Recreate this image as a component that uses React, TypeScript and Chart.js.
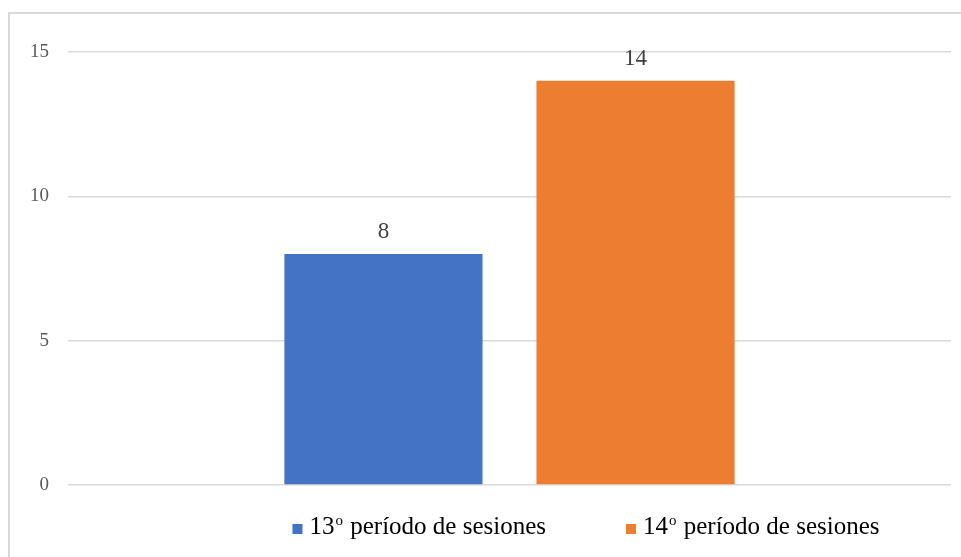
import React, { useEffect, useRef } from "react";
import { Chart, registerables } from "chart.js";

Chart.register(...registerables);

const categories = [""];
const seriesLabels = ["13º período de sesiones", "14º período de sesiones"];
const series13 = [8];
const series14 = [14];
const seriesColors = ["#4472C4", "#ED7D31"];
const yTicks = [0, 5, 10, 15];

const FONT = "'Liberation Serif', 'Times New Roman', serif";

function drawOrdinalText(ctx: CanvasRenderingContext2D, text: string, x: number, y: number, size: number) {
  const parts = text.split("º");
  let cx = x;
  parts.forEach((p, i) => {
    ctx.font = `${size}px ${FONT}`;
    ctx.fillText(p, cx, y);
    cx += ctx.measureText(p).width;
    if (i < parts.length - 1) {
      const small = Math.round(size * 0.6);
      ctx.font = `${small}px ${FONT}`;
      ctx.fillText("o", cx + 1, y - size * 0.38);
      cx += ctx.measureText("o").width + 2;
    }
  });
  return cx - x;
}

function measureOrdinalText(ctx: CanvasRenderingContext2D, text: string, size: number) {
  const parts = text.split("º");
  let w = 0;
  parts.forEach((p, i) => {
    ctx.font = `${size}px ${FONT}`;
    w += ctx.measureText(p).width;
    if (i < parts.length - 1) {
      ctx.font = `${Math.round(size * 0.6)}px ${FONT}`;
      w += ctx.measureText("o").width + 2;
    }
  });
  return w;
}

const valueLabelPlugin = {
  id: "valueLabels",
  afterDatasetsDraw(chart: any) {
    const ctx = chart.ctx as CanvasRenderingContext2D;
    ctx.save();
    ctx.fillStyle = "#404040";
    ctx.font = `23px ${FONT}`;
    ctx.textAlign = "center";
    ctx.textBaseline = "alphabetic";
    chart.data.datasets.forEach((ds: any, di: number) => {
      const meta = chart.getDatasetMeta(di);
      meta.data.forEach((el: any, i: number) => {
        ctx.fillText(String(ds.data[i]), el.x, el.y - 16);
      });
    });
    ctx.restore();
  },
};

const customLegendPlugin = {
  id: "customLegend",
  afterDraw(chart: any) {
    const ctx = chart.ctx as CanvasRenderingContext2D;
    const size = 25;
    const box = 10;
    const boxGap = 7;
    const itemGap = 80;
    const centerX = 586;
    const baseline = 534;
    ctx.save();
    const items = chart.data.datasets.map((ds: any) => ({
      label: ds.label as string,
      color: ds.backgroundColor as string,
      w: measureOrdinalText(ctx, ds.label, size),
    }));
    const total = items.reduce((s: number, it: any) => s + box + boxGap + it.w, 0) + itemGap * (items.length - 1);
    let x = centerX - total / 2;
    ctx.textAlign = "left";
    ctx.textBaseline = "alphabetic";
    items.forEach((it: any) => {
      ctx.fillStyle = it.color;
      ctx.fillRect(x, baseline - 10, box, box);
      x += box + boxGap;
      ctx.fillStyle = "#000000";
      const w = drawOrdinalText(ctx, it.label, x, baseline, size);
      x += w + itemGap;
    });
    ctx.restore();
  },
};

export default function App() {
  const ref = useRef<HTMLCanvasElement>(null);
  useEffect(() => {
    if (!ref.current) return;
    const chart = new Chart(ref.current, {
      type: "bar",
      data: {
        labels: categories,
        datasets: [
          { label: seriesLabels[0], data: series13, backgroundColor: seriesColors[0] },
          { label: seriesLabels[1], data: series14, backgroundColor: seriesColors[1] },
        ],
      },
      options: {
        animation: false,
        responsive: false,
        maintainAspectRatio: false,
        layout: { padding: { left: 0, right: 10, top: 52, bottom: 72 } },
        plugins: {
          legend: { display: false },
          tooltip: { enabled: false },
        },
        datasets: {
          bar: { categoryPercentage: 0.571, barPercentage: 0.786 },
        },
        scales: {
          x: { display: false },
          y: {
            min: 0,
            max: 15,
            afterFit: (scale: any) => {
              scale.width = 68;
            },
            afterBuildTicks: (scale: any) => {
              scale.ticks = yTicks.map((v) => ({ value: v }));
            },
            border: { display: false },
            grid: { color: "#d9d9d9", lineWidth: 1.5, drawTicks: false },
            ticks: {
              padding: 19,
              color: "#595959",
              font: { family: FONT, size: 19 },
            },
          },
        },
      },
      plugins: [valueLabelPlugin, customLegendPlugin],
    });
    return () => chart.destroy();
  }, []);
  return (
    <div style={{ position: "fixed", left: 0, top: 0, width: 961, height: 557, background: "#fff" }}>
      <div
        style={{
          position: "absolute",
          left: 8,
          top: 12,
          width: 961,
          height: 557,
          borderLeft: "2px solid #d9d9d9",
          borderTop: "2px solid #d9d9d9",
        }}
      />
      <canvas ref={ref} width={961} height={557} style={{ position: "absolute", left: 0, top: 0 }} />
    </div>
  );
}
